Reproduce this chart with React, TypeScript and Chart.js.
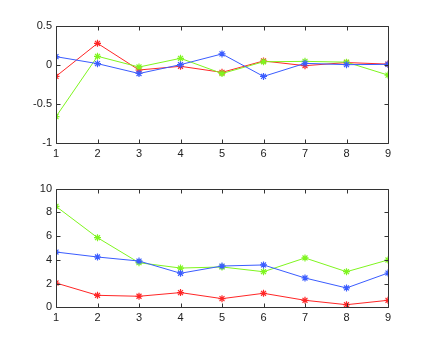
import React, { useEffect, useRef } from "react";
import { Chart, registerables } from "chart.js";

Chart.register(...registerables);

const categories = [1, 2, 3, 4, 5, 6, 7, 8, 9];

const topBlue = [0.105, 0.016, -0.11, 0.003, 0.14, -0.147, 0.02, 0.003, 0.007];
const topRed = [-0.146, 0.275, -0.065, -0.018, -0.095, 0.05, -0.01, 0.03, 0.01];
const topGreen = [-0.66, 0.11, -0.027, 0.084, -0.11, 0.04, 0.045, 0.035, -0.13];
const topYTicks = [-1, -0.5, 0, 0.5];

const botGreen = [8.51, 5.87, 3.76, 3.31, 3.4, 3.0, 4.16, 3.0, 3.99];
const botBlue = [4.66, 4.24, 3.9, 2.87, 3.48, 3.57, 2.47, 1.63, 2.89];
const botRed = [2.05, 1.01, 0.93, 1.24, 0.73, 1.18, 0.59, 0.22, 0.59];
const botYTicks = [0, 2, 4, 6, 8, 10];

const BLUE = "#3a5cff";
const RED = "#ff2626";
const GREEN = "#7ff51f";

const boxPlugin = {
  id: "matlabBox",
  afterDraw(chart: any) {
    const { ctx, chartArea, scales } = chart;
    const { left, right, top, bottom } = chartArea;
    const L = Math.round(left) + 0.5;
    const R = Math.round(right) + 0.5;
    const T = Math.round(top) + 0.5;
    const B = Math.round(bottom) + 0.5;
    ctx.save();
    ctx.strokeStyle = "#333";
    ctx.lineWidth = 1;
    ctx.beginPath();
    ctx.rect(L, T, R - L, B - T);
    ctx.stroke();
    const tl = 4;
    ctx.beginPath();
    scales.x.ticks.forEach((t: any) => {
      const px = Math.round(scales.x.getPixelForValue(t.value)) + 0.5;
      ctx.moveTo(px, B);
      ctx.lineTo(px, B - tl);
      ctx.moveTo(px, T);
      ctx.lineTo(px, T + tl);
    });
    scales.y.ticks.forEach((t: any) => {
      const py = Math.round(scales.y.getPixelForValue(t.value)) + 0.5;
      ctx.moveTo(L, py);
      ctx.lineTo(L + tl, py);
      ctx.moveTo(R, py);
      ctx.lineTo(R - tl, py);
    });
    ctx.stroke();
    ctx.restore();
  },
};

function ds(label: string, values: number[], color: string) {
  return {
    label,
    data: values.map((v, i) => ({ x: categories[i], y: v })),
    borderColor: color,
    backgroundColor: color,
    borderWidth: 1,
    pointStyle: "star",
    pointRadius: 3.5,
    pointBorderWidth: 1.2,
    pointBorderColor: color,
    tension: 0,
  };
}

function makeConfig(
  datasets: any[],
  yMin: number,
  yMax: number,
  yTicks: number[],
  padTop: number,
  xAxisH: number
) {
  return {
    type: "line",
    data: { datasets },
    plugins: [boxPlugin],
    options: {
      responsive: false,
      animation: false,
      events: [],
      layout: { padding: { left: 0, right: 41, top: padTop, bottom: 0 } },
      plugins: { legend: { display: false }, tooltip: { enabled: false } },
      scales: {
        x: {
          type: "linear",
          min: 1,
          max: 9,
          afterBuildTicks: (s: any) => {
            s.ticks = categories.map((v) => ({ value: v }));
          },
          grid: { display: false, drawTicks: false },
          border: { display: false },
          ticks: {
            color: "#222",
            font: { family: "Liberation Sans", size: 11 },
            padding: 4,
            maxRotation: 0,
            autoSkip: false,
            callback: (v: any) => String(v),
          },
          afterFit: (s: any) => {
            s.height = xAxisH;
          },
        },
        y: {
          type: "linear",
          min: yMin,
          max: yMax,
          afterBuildTicks: (s: any) => {
            s.ticks = yTicks.map((v) => ({ value: v }));
          },
          grid: { display: false, drawTicks: false },
          border: { display: false },
          ticks: {
            color: "#222",
            font: { family: "Liberation Sans", size: 11 },
            padding: 4,
            callback: (v: any) => String(v),
          },
          afterFit: (s: any) => {
            s.width = 56;
          },
        },
      },
    },
  };
}

function Plot({ config, top }: { config: any; top: number }) {
  const ref = useRef<HTMLCanvasElement | null>(null);
  useEffect(() => {
    if (!ref.current) return;
    const chart = new Chart(ref.current, config);
    return () => chart.destroy();
  }, []);
  return (
    <canvas
      ref={ref}
      width={429}
      height={173}
      style={{ position: "absolute", left: 0, top, width: 429, height: 173 }}
    />
  );
}

export default function App() {
  const topCfg = makeConfig(
    [ds("blue", topBlue, BLUE), ds("green", topGreen, GREEN), ds("red", topRed, RED)],
    -1,
    0.5,
    topYTicks,
    25.7,
    173 - 143.3
  );
  const botCfg = makeConfig(
    [ds("blue", botBlue, BLUE), ds("green", botGreen, GREEN), ds("red", botRed, RED)],
    0,
    10,
    botYTicks,
    188.7 - 173,
    173 - (307.3 - 173)
  );
  return (
    <div
      style={{
        position: "absolute",
        left: 0,
        top: 0,
        width: 429,
        height: 346,
        background: "#fff",
        overflow: "hidden",
      }}
    >
      <Plot config={topCfg} top={0} />
      <Plot config={botCfg} top={173} />
    </div>
  );
}
